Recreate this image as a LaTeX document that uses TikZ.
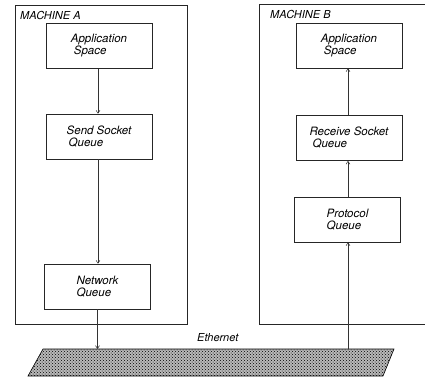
\documentclass[tikz,border=0pt]{standalone}
\usepackage{fontspec}
\setmainfont{TeX Gyre Heros}
\usetikzlibrary{arrows.meta,patterns}
\tikzset{
  frame/.style={line width=0.6pt,draw=black!85},
  qbox/.style={draw=black!85,line width=0.6pt,minimum width=106pt,minimum height=45pt,
    align=left,inner sep=0pt,font=\fontsize{11.5}{12}\selectfont\itshape},
  mlabel/.style={anchor=west,inner sep=0pt,font=\fontsize{11}{12}\selectfont\itshape},
  flow/.style={draw=black!80,line width=0.5pt,-{Straight Barb[length=3pt,width=4pt]}}
}
\begin{document}
\begin{tikzpicture}[x=1pt,y=-1pt]
\useasboundingbox (0,0) rectangle (425,377);

% machine frames
\draw[frame] (15,5) rectangle (187,324);
\draw[frame] (425,4) -- (259,4) -- (259,324) -- (425,324);
\node[mlabel] (lblA) at (20,15) {MACHINE A};
\node[mlabel] (lblB) at (270,14) {MACHINE B};

% machine A queues
\node[qbox] (appA) at (99,46) {Application\\\hspace*{3pt}Space};
\node[qbox] (sendA) at (99,136.5) {Send Socket\\\hspace*{2pt}Queue};
\node[qbox] (netA) at (97.5,286.5) {Network\\Queue};

% machine B queues
\node[qbox] (appB) at (349,45.5) {Application\\\hspace*{3pt}Space};
\node[qbox] (recvB) at (349,138) {Receive Socket\\\hspace*{3pt}Queue};
\node[qbox] (protB) at (347.5,219.5) {Protocol\\Queue};

% ethernet segment
\draw[line width=0.6pt,fill=gray!55,postaction={pattern=crosshatch dots,pattern color=black}]
  (28,376) -- (383,376) -- (394,349) -- (43,349) -- cycle;
\coordinate (eth) at (200,349);
\node[mlabel] (ethlbl) at (197,338) {Ethernet};

% data flow
\draw[flow] ([xshift=-1pt]appA.south) -- ([xshift=-1pt]sendA.north);
\draw[flow] ([xshift=-1pt]sendA.south) -- ([xshift=-1pt]sendA.south |- netA.north);
\draw[flow] (netA.south) -- (netA.south |- eth);
\draw[flow] ([xshift=0.5pt]protB.south |- eth) -- ([xshift=0.5pt]protB.south);
\draw[flow] ([xshift=0.5pt]protB.north) -- ([xshift=0.5pt]protB.north |- recvB.south);
\draw[flow] ([xshift=-1pt]recvB.north) -- ([xshift=-1pt]appB.south);
\end{tikzpicture}
\end{document}
